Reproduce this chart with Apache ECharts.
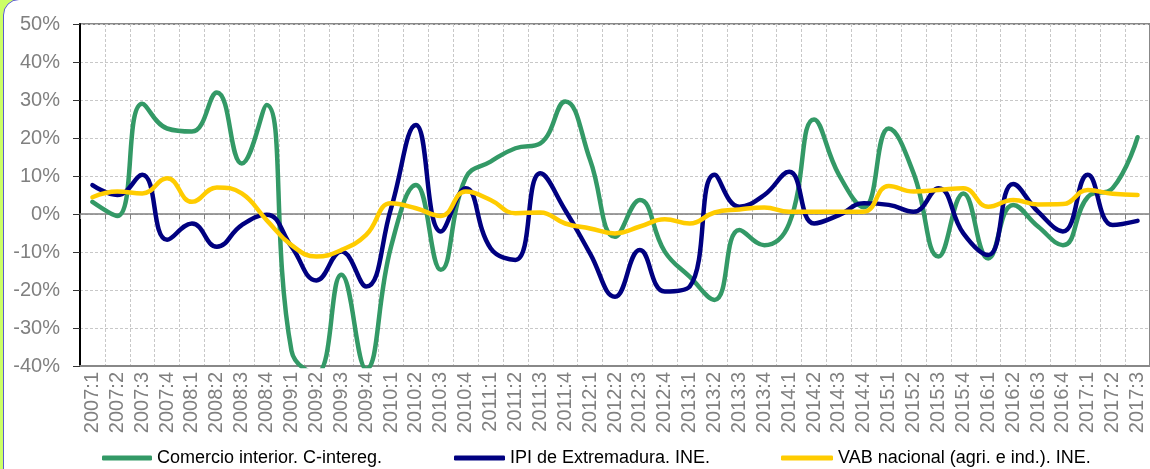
<!DOCTYPE html>
<html>
<head>
<meta charset="utf-8">
<script src="https://cdn.jsdelivr.net/npm/echarts@6/dist/echarts.min.js"></script>
<style>
html,body{margin:0;padding:0;width:1150px;height:469px;overflow:hidden;background:#ccff66;}
#frame{position:absolute;left:3px;top:-1px;width:1200px;height:520px;background:#fff;border:1px solid #5a5ad0;border-radius:16px;}
#chart{position:absolute;left:0;top:0;width:1150px;height:469px;}
</style>
</head>
<body>
<div id="frame"></div>
<div id="chart"></div>
<script>
const categories = ['2007:1','2007:2','2007:3','2007:4','2008:1','2008:2','2008:3','2008:4',
'2009:1','2009:2','2009:3','2009:4','2010:1','2010:2','2010:3','2010:4',
'2011:1','2011:2','2011:3','2011:4','2012:1','2012:2','2012:3','2012:4',
'2013:1','2013:2','2013:3','2013:4','2014:1','2014:2','2014:3','2014:4',
'2015:1','2015:2','2015:3','2015:4','2016:1','2016:2','2016:3','2016:4',
'2017:1','2017:2','2017:3'];
const comercio = [3.2,-0.5,29,22.5,21.7,32,13.3,28.7,
-36,-42,-16,-40.8,-8.6,7.6,-14.7,9.5,
13.8,17.3,18.6,29.6,14.2,-6,3.7,-9.9,
-16.5,-22.6,-4.2,-8.2,-2.5,24.9,10.3,1.8,
22.5,10.7,-11.2,5.4,-11.7,2.4,-3.3,-8.2,
4.5,6.8,20.2];
const ipi = [7.6,5,10.3,-6.8,-2.5,-8.6,-2.9,-0.2,
-8.6,-17.5,-9.9,-19.1,1.5,23.4,-4.6,6.8,
-9,-12.1,10.7,1,-10.4,-21.8,-9.5,-20.4,
-19.1,10.3,1.9,5,11.1,-2.5,-0.3,2.8,
2.4,0.6,6.8,-5.1,-10.8,7.9,0.6,-4.6,
10.3,-2.9,-1.8];
const vab = [4.4,5.9,5.4,9.4,3.2,7,5.4,-1.6,
-8.2,-11.2,-9.5,-5.5,2.8,1.5,-0.5,5.9,
3.7,0.2,0.4,-2.5,-3.8,-5.1,-3.3,-1.4,
-2.5,0.4,1.2,1.7,0.6,0.6,0.6,0.6,
7.4,5.9,6.3,6.8,1.9,3.7,2.5,2.6,
6.3,5.3,5];
const names = ['Comercio interior. C-intereg.','IPI de Extremadura. INE.','VAB nacional (agri. e ind.). INE.'];
const colors = ['#339966','#000080','#ffcc00'];

const font = 'Liberation Sans, Arial, sans-serif';
const chart = echarts.init(document.getElementById('chart'));
const mkLegend = (i, left, w) => ({
  data:[names[i]], left:left, top:449, padding:0,
  icon:'roundRect', itemWidth:w, itemHeight:5, itemGap:0,
  textStyle:{fontFamily:font,fontSize:18,color:'#000'}
});
chart.setOption({
  animation:false,
  color:colors,
  legend:[mkLegend(0,102,50), mkLegend(1,454,51), mkLegend(2,781,52)],
  grid:{left:80, top:24, width:1075, height:342, show:true, borderColor:'#888', borderWidth:2, containLabel:false},
  xAxis:[{
    type:'category', data:categories, boundaryGap:true, position:'bottom',
    axisLine:{show:true,onZero:false,lineStyle:{color:'#888',width:2}},
    axisTick:{show:false},
    axisLabel:{rotate:90, interval:0, margin:6, color:'#808080', fontFamily:font, fontSize:20},
    splitLine:{show:true, interval:0, lineStyle:{color:'#c8c8c8', type:[3,2], width:1}}
  },{
    type:'category', data:categories, boundaryGap:true, position:'top',
    axisLine:{show:true,onZero:true,lineStyle:{color:'#808080',width:1.5}},
    axisTick:{show:true, inside:true, length:5, interval:0, lineStyle:{color:'#808080'}},
    axisLabel:{show:false}, splitLine:{show:false}
  }],
  yAxis:{
    type:'value', min:-40, max:50, interval:10,
    axisLine:{show:true, lineStyle:{color:'#000', width:2}},
    axisTick:{show:true, length:7, lineStyle:{color:'#333'}},
    axisLabel:{formatter:'{value}%', margin:20, color:'#808080', fontFamily:font, fontSize:20},
    splitLine:{show:true, lineStyle:{color:'#c8c8c8', type:[3,2], width:1}}
  },
  series:[comercio, ipi, vab].map((d,i)=>({
    name:names[i], type:'line', data:d, smooth:0.45, symbol:'none', showSymbol:false,
    lineStyle:{width:4.5, color:colors[i], cap:'round', join:'round'},
    itemStyle:{color:colors[i]}, z:2+i, clip:true
  }))
});
</script>
</body>
</html>
